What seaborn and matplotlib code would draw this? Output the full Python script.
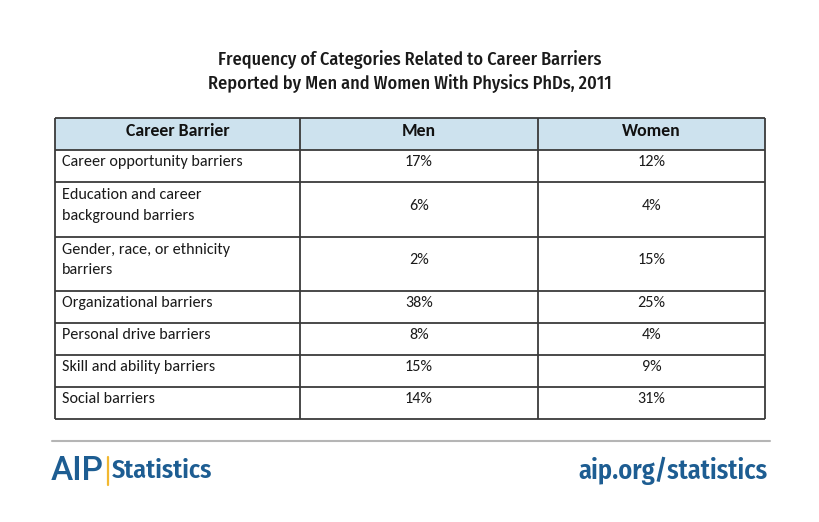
import matplotlib
matplotlib.use("Agg")
import matplotlib.pyplot as plt
import seaborn as sns
import pandas as pd
from matplotlib.patches import Rectangle

# ---- data ----
title_lines = ["Frequency of Categories Related to Career Barriers",
               "Reported by Men and Women With Physics PhDs, 2011"]
columns = ["Career Barrier", "Men", "Women"]
barriers = ["Career opportunity barriers",
            "Education and career\nbackground barriers",
            "Gender, race, or ethnicity\nbarriers",
            "Organizational barriers",
            "Personal drive barriers",
            "Skill and ability barriers",
            "Social barriers"]
men = [17, 6, 2, 38, 8, 15, 14]
women = [12, 4, 15, 25, 4, 9, 31]

df = pd.DataFrame({"Career Barrier": barriers, "Men": men, "Women": women})

# ---- layout ----
sns.set_theme(style="white")
plt.rcParams['font.family'] = ['Carlito', 'DejaVu Sans']
cond = ['Fira Sans Condensed', 'DejaVu Sans']

W, H = 820, 522
fig = plt.figure(figsize=(8.2, 5.22), dpi=100)
ax = fig.add_axes([0, 0, 1, 1])
ax.set_xlim(0, W)
ax.set_ylim(H, 0)
ax.axis("off")

col_edges = [55, 300, 538, 765]
header_top, header_h = 118, 32
row_h = [32, 55, 54, 32, 32, 32, 32]
line_c = "#3a3a3a"
blue = "#1d5d92"
txt_c = "#1a1a1a"
fs = 11.6

# title
for i, t in enumerate(title_lines):
    ax.text(410, 59 + i * 24, t, ha="center", va="center", fontsize=13.1,
            family=cond, color="#1a1a1a", fontweight=500)

# header
ax.add_patch(Rectangle((col_edges[0], header_top), col_edges[-1] - col_edges[0], header_h,
                       facecolor="#cde2ee", edgecolor="none", zorder=1))
hy = header_top + header_h / 2 - 3
for k in range(3):
    ax.text((col_edges[k] + col_edges[k + 1]) / 2, hy, columns[k], ha="center",
            va="center", fontsize=12.8, fontweight="bold", color="#111")

# rows
y = header_top + header_h
ys = [header_top, y]
for i, row in df.iterrows():
    h = row_h[i]
    cy = y + h / 2 - 4
    ax.text(col_edges[0] + 7, cy, row["Career Barrier"], ha="left", va="center",
            fontsize=fs, color=txt_c, linespacing=1.6)
    ax.text((col_edges[1] + col_edges[2]) / 2, cy, f"{row['Men']}%", ha="center",
            va="center", fontsize=fs, color=txt_c)
    ax.text((col_edges[2] + col_edges[3]) / 2, cy, f"{row['Women']}%", ha="center",
            va="center", fontsize=fs, color=txt_c)
    y += h
    ys.append(y)

for yy in ys:
    ax.plot([col_edges[0], col_edges[-1]], [yy, yy], color=line_c, lw=1.3, zorder=3,
            solid_capstyle="butt")
for xx in col_edges:
    ax.plot([xx, xx], [ys[0], ys[-1]], color=line_c, lw=1.3, zorder=3,
            solid_capstyle="butt")

# footer
ax.plot([52, 770], [441, 441], color="#b5b5b5", lw=1.5)
ax.text(51, 471, "AIP", ha="left", va="center", fontsize=24, color=blue,
        family=['Roboto', 'DejaVu Sans'], fontweight=500)
ax.plot([108, 108], [457, 485], color="#f2b830", lw=1.6)
ax.text(112, 471, "Statistics", ha="left", va="center", fontsize=18.7, color=blue,
        family=cond, fontweight=600)
ax.text(768, 471, "aip.org/statistics", ha="right", va="center", fontsize=19,
        color=blue, family=cond, fontweight=600)

fig.savefig("out.png", dpi=100)
